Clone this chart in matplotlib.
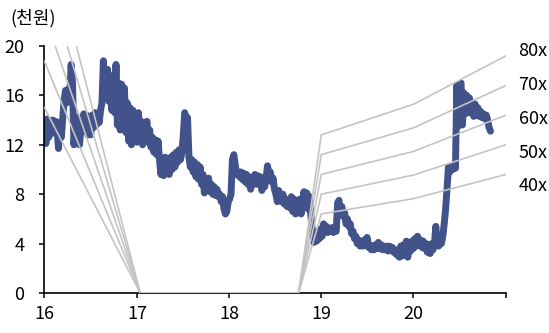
import matplotlib
matplotlib.use("Agg")
import matplotlib.pyplot as plt
import pandas as pd

plt.rcParams['font.family'] = ['Noto Sans CJK KR', 'DejaVu Sans']

# Share price (thousand won), regular samples from Jan 2016 to Nov 2020
price = [
    13.6, 12.1, 14.1, 12.6, 13.9, 12.9, 14.0, 13.0, 13.9, 13.2,
    11.7, 13.8, 12.6, 14.1, 15.6, 16.4, 15.4, 16.5, 15.8, 18.5,
    17.0, 12.0, 13.6, 12.1, 14.2, 12.0, 13.4, 13.1, 14.5, 13.4,
    14.4, 12.8, 13.6, 12.8, 14.4, 13.4, 14.6, 13.6, 14.5, 13.8,
    14.8, 15.4, 18.8, 16.0, 17.8, 18.1, 15.5, 17.6, 14.8, 17.2,
    14.6, 18.5, 13.6, 17.0, 13.2, 16.9, 14.2, 16.6, 13.0, 15.4,
    12.3, 15.0, 12.0, 14.8, 12.6, 14.4, 12.2, 14.6, 12.4, 13.9,
    12.0, 13.6, 12.8, 13.9, 12.2, 13.2, 11.8, 12.6, 11.4, 12.4,
    11.2, 12.3, 10.8, 9.6, 10.8, 9.5, 11.0, 9.8, 10.6, 9.6,
    11.0, 10.0, 11.2, 10.2, 11.4, 10.6, 11.6, 10.8, 11.4, 12.8,
    14.6, 13.4, 14.2, 11.0, 10.2, 10.8, 9.8, 10.6, 9.4, 10.4,
    9.2, 10.2, 8.8, 9.6, 8.1, 9.0, 8.4, 9.3, 8.2, 8.8,
    8.0, 8.6, 7.9, 8.4, 7.8, 8.0, 7.4, 7.8, 6.8, 6.4,
    6.6, 7.4, 7.6, 8.0, 10.8, 11.2, 10.4, 9.6, 9.8, 9.4,
    9.8, 9.2, 9.7, 9.0, 9.6, 8.8, 9.4, 8.4, 9.2, 9.0,
    9.6, 8.8, 9.5, 9.0, 9.4, 8.3, 9.2, 8.6, 9.3, 10.3,
    9.6, 9.8, 9.0, 9.3, 8.4, 8.0, 7.4, 8.3, 7.6, 7.4,
    8.0, 7.2, 7.6, 7.0, 7.5, 6.9, 7.8, 6.6, 7.6, 6.4,
    7.4, 6.6, 7.6, 6.4, 7.2, 8.2, 7.0, 8.1, 6.8, 7.8,
    6.2, 5.0, 4.1, 4.6, 4.2, 5.0, 4.4, 5.2, 4.6, 5.6,
    5.2, 5.4, 4.9, 5.2, 5.0, 5.3, 4.9, 5.2, 5.0, 7.3,
    7.5, 6.4, 7.0, 6.2, 6.5, 5.6, 6.0, 5.4, 5.6, 4.8,
    5.0, 4.4, 4.6, 4.0, 4.3, 3.8, 4.1, 3.8, 4.3, 4.0,
    4.5, 3.7, 3.9, 3.5, 3.8, 3.5, 3.9, 3.6, 4.1, 3.6,
    3.9, 3.5, 3.8, 3.5, 3.8, 3.4, 3.8, 3.5, 3.7, 3.3,
    3.5, 3.1, 3.4, 2.9, 3.8, 3.0, 3.9, 3.3, 4.2, 2.9,
    4.0, 3.4, 4.2, 3.6, 4.4, 3.8, 4.6, 3.9, 4.3, 3.7,
    4.2, 3.6, 4.0, 3.3, 3.9, 3.2, 4.0, 3.5, 3.9, 5.4,
    4.0, 3.8, 4.2, 4.0, 4.6, 5.6, 6.8, 8.4, 10.2, 9.8,
    10.3, 10.0, 10.4, 10.1, 16.8, 13.5, 16.9, 17.0, 13.6, 16.2,
    14.5, 16.0, 14.6, 15.8, 14.6, 15.4, 14.3, 15.3, 14.4, 15.0,
    14.3, 14.7, 14.2, 14.5, 14.1, 14.4, 14.0, 13.4, 13.1,
]
price_dates = pd.date_range('2016-01-01', '2020-11-01', periods=len(price))

# EPS path (thousand won) used for the PER bands
eps_dates = pd.to_datetime(['2016-01-01', '2017-01-14', '2018-10-03',
                            '2019-01-01', '2020-01-01', '2021-01-01'])
eps = [0.375, 0.0, 0.0, 0.160, 0.191, 0.240]
multiples = [40, 50, 60, 70, 80]
band_labels = ['40x', '50x', '60x', '70x', '80x']
band_label_y = [8.65, 11.3, 14.05, 16.8, 19.6]

year_ticks = pd.to_datetime(['2016-01-01', '2017-01-01', '2018-01-01',
                             '2019-01-01', '2020-01-01', '2021-01-01'])
year_labels = ['16', '17', '18', '19', '20', '']
y_ticks = [0, 4, 8, 12, 16, 20]

fig = plt.figure(figsize=(5.49, 3.33), dpi=100)
ax = fig.add_axes([0.081, 0.120, 0.8405, 0.742])

ax.plot(price_dates, price, color='#42528a', lw=5.0,
        solid_joinstyle='round', solid_capstyle='round', zorder=2)

for m in multiples:
    ax.plot(eps_dates, [e * m for e in eps], color='#c4c4c4', lw=1.2, zorder=3)

for lab, yv in zip(band_labels, band_label_y):
    ax.text(pd.Timestamp('2021-02-20'), yv, lab, fontsize=13,
            va='center', ha='left', clip_on=False)

ax.set_xlim(pd.Timestamp('2016-01-01'), pd.Timestamp('2021-01-01'))
ax.set_ylim(0, 20)
ax.set_xticks(year_ticks)
ax.set_xticklabels(year_labels)
ax.set_yticks(y_ticks)
ax.set_yticklabels([str(v) for v in y_ticks])

for s in ['top', 'right']:
    ax.spines[s].set_visible(False)
for s in ['left', 'bottom']:
    ax.spines[s].set_linewidth(1.2)
    ax.spines[s].set_color('black')
ax.tick_params(axis='both', direction='out', length=3.5, width=1.1,
               labelsize=13, colors='black')
ax.tick_params(axis='y', pad=11)
ax.tick_params(axis='x', pad=5)

fig.text(0.018, 0.945, '(천원)', fontsize=13, va='center', ha='left')

fig.savefig('out.png', dpi=100)
